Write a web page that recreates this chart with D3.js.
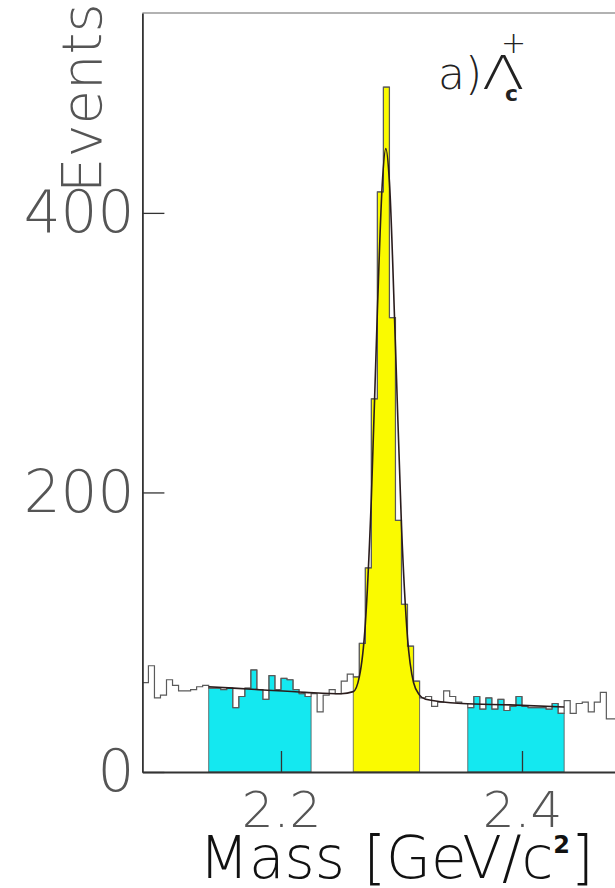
<!DOCTYPE html>
<html>
<head>
<meta charset="utf-8">
<script src="https://cdn.jsdelivr.net/npm/d3@7"></script>
<style>
  body { margin: 0; background: #fff; }
  svg { display: block; }
  text { font-family: 'DejaVu Sans', sans-serif; }
</style>
</head>
<body>
<svg id="chart" width="615" height="888"></svg>
<script>
// histogram: first bin edge and bin width in GeV/c^2
const massStart = 2.085;
const binWidth = 0.005;
const counts = [
  64, 76, 53, 55, 66, 62, 58, 58, 59, 61,
  62, 60, 60, 59, 60, 46, 54, 60, 73, 59,
  52, 69, 59, 67, 66, 59, 56, 54, 56, 43,
  55, 59, 56, 65, 70, 68, 92, 146, 267, 415,
  490, 325, 180, 120, 90, 65, 53, 54, 47, 50,
  58, 54, 50, 49, 46, 54, 45, 53, 45, 52,
  44, 47, 54, 47, 46, 46, 46, 45, 49, 42,
  51, 42, 49, 50, 43, 50, 57, 38, 38
];

// mass windows
const leftBand = [2.14, 2.225];
const signalBand = [2.26, 2.315];
const rightBand = [2.355, 2.435];

// fitted curve
const fitMass = [2.14, 2.18, 2.22, 2.25, 2.26, 2.265, 2.27, 2.275, 2.28, 2.284, 2.287,
  2.29, 2.295, 2.3, 2.305, 2.31, 2.315, 2.32, 2.35, 2.39, 2.435];
const fitValue = [61, 59, 57, 56, 57.5, 68, 106, 196, 330, 420, 446,
  422, 305, 176, 96, 64, 55, 52, 49, 48, 46.5];

const yMajor = [0, 200, 400];
const yMinor = [50, 100, 150, 250, 300, 350, 450, 500];
const xMajor = [2.2, 2.4];
const xMinor = [2.1, 2.15, 2.25, 2.3, 2.35, 2.45];

const svg = d3.select('#chart');

const x = d3.scaleLinear().domain([2.085, 2.5]).range([142.4, 642.5]);
const y = d3.scaleLinear().domain([0, 543]).range([772, 13]);

const bins = counts.map((c, i) => ({
  x0: +(massStart + i * binWidth).toFixed(3),
  x1: +(massStart + (i + 1) * binWidth).toFixed(3),
  n: c,
}));

function stepPoints(list) {
  const pts = list.map((b) => [b.x0, b.n]);
  const last = list[list.length - 1];
  pts.push([last.x1, last.n]);
  return pts;
}

const area = d3.area()
  .curve(d3.curveStepAfter)
  .x((d) => x(d[0]))
  .y0(y(0))
  .y1((d) => y(d[1]));

const line = d3.line()
  .curve(d3.curveStepAfter)
  .x((d) => x(d[0]))
  .y((d) => y(d[1]));

// coloured windows
[[leftBand, '#14e8f0'], [signalBand, '#fafa00'], [rightBand, '#14e8f0']].forEach(([band, col]) => {
  const sel = bins.filter((b) => b.x0 >= band[0] - 1e-9 && b.x1 <= band[1] + 1e-9);
  svg.append('path')
    .datum(stepPoints(sel))
    .attr('d', area)
    .attr('fill', col)
    .attr('stroke', '#555')
    .attr('stroke-width', 0.8);
});

// histogram outline
svg.append('path')
  .datum(stepPoints(bins))
  .attr('d', line)
  .attr('fill', 'none')
  .attr('stroke', '#5a5a5a')
  .attr('stroke-width', 1.2);

// fit
svg.append('path')
  .datum(fitMass.map((m, i) => [m, fitValue[i]]))
  .attr('d', d3.line().curve(d3.curveMonotoneX).x((d) => x(d[0])).y((d) => y(d[1])))
  .attr('fill', 'none')
  .attr('stroke', '#2a1c1c')
  .attr('stroke-width', 1.6);

// frame top
svg.append('line')
  .attr('x1', x(2.085)).attr('x2', 615)
  .attr('y1', y(543)).attr('y2', y(543))
  .attr('stroke', '#999').attr('stroke-width', 1.5);

// x axis
const gx = svg.append('g').attr('transform', `translate(0,${y(0)})`);
gx.call(d3.axisBottom(x).tickValues(xMinor).tickSize(-10).tickSizeOuter(0).tickFormat(''));
gx.call(d3.axisBottom(x).tickValues(xMajor).tickSize(-21).tickSizeOuter(0).tickFormat(d3.format('.1f')));
gx.selectAll('path.domain').attr('stroke', '#333').attr('stroke-width', 1.8);
gx.selectAll('.tick line').attr('stroke', '#333').attr('stroke-width', 1.3);
gx.selectAll('text')
  .attr('y', 55).attr('dy', 0)
  .attr('font-size', 50)
  .attr('font-family', 'DejaVu Sans')
  .attr('font-weight', 200)
  .attr('fill', '#555');

// y axis
const gy = svg.append('g').attr('transform', `translate(${x(2.085)},0)`);
gy.call(d3.axisLeft(y).tickValues(yMinor).tickSize(-11).tickSizeOuter(0).tickFormat(''));
gy.call(d3.axisLeft(y).tickValues(yMajor).tickSize(-22).tickSizeOuter(0).tickPadding(8));
gy.selectAll('path.domain').attr('stroke', '#333').attr('stroke-width', 1.8);
gy.selectAll('.tick line').attr('stroke', '#333').attr('stroke-width', 1.3);
gy.selectAll('text')
  .attr('font-size', 58)
  .attr('font-family', 'DejaVu Sans')
  .attr('font-weight', 200)
  .attr('fill', '#555');

// axis titles
svg.append('text')
  .attr('transform', 'translate(101,193) rotate(-90)')
  .attr('font-size', 56)
  .attr('font-weight', 200)
  .attr('fill', '#555')
  .text('Events');

const xt = svg.append('text')
  .attr('x', 199).attr('y', 878)
  .attr('font-size', 58)
  .attr('font-weight', 200)
  .attr('fill', '#111');
xt.append('tspan').text('Mass [GeV/c');
xt.append('tspan').attr('dy', -25).attr('font-size', 24).attr('font-weight', 'bold').text('2');
xt.append('tspan').attr('dy', 25).attr('dx', 1).text(']');

// panel label
const label = svg.append('g').attr('fill', '#222').attr('font-weight', 200);
label.append('text')
  .attr('x', 438).attr('y', 89)
  .attr('font-size', 44)
  .text('a)');
label.append('text')
  .attr('transform', 'translate(482,89) scale(1.35,1)')
  .attr('font-size', 46)
  .text('Λ');
label.append('text')
  .attr('x', 505).attr('y', 101)
  .attr('font-size', 22).attr('font-weight', 'bold')
  .text('c');
label.append('text')
  .attr('x', 501).attr('y', 53)
  .attr('font-size', 30)
  .text('+');
</script>
</body>
</html>
